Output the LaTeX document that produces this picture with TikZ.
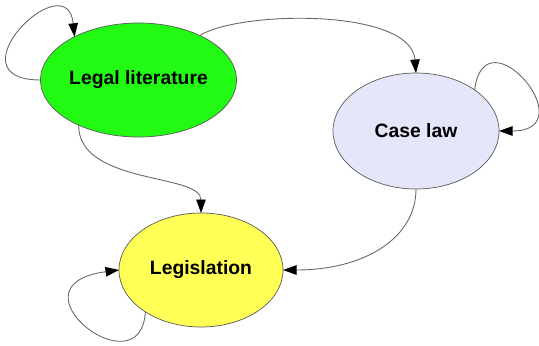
\documentclass[tikz,border=0pt]{standalone}
\usepackage{fontspec}
\setmainfont{Liberation Sans}
\usetikzlibrary{shapes.geometric,arrows.meta}
\definecolor{litgreen}{RGB}{34,250,20}
\definecolor{caselilac}{RGB}{230,230,250}
\definecolor{legyellow}{RGB}{255,255,85}
\begin{document}
\begin{tikzpicture}[
	area/.style={ellipse, draw=black!65, thin, inner sep=0pt, outer sep=0pt,
		minimum width=3.28cm, minimum height=2.28cm,
		font=\fontsize{11}{13}\selectfont\bfseries},
	link/.style={draw=black!60, line width=0.5pt,
		-{Triangle[color=black, length=2.7mm, width=1.9mm]}}
	]
	   \useasboundingbox (0, 0) rectangle (10.78, 6.9);
	   % draw the three areas
	   \node [area, fill=litgreen] (lit) at (2.77, 5.30) {Legal literature};
	   \node [area, fill=caselilac, minimum width=3.32cm, minimum height=2.32cm] (case) at (8.32, 4.28) {Case law};
	   \node [area, fill=legyellow] (leg) at (4.02, 1.50) {Legislation};
	   % self loops
	   \draw [link] (lit.180) .. controls +(-1.85, 0) and +(-0.15, 1.5) .. (lit.146);
	   \draw [link] (case.35) .. controls +(0.2, 1.6) and +(1.75, 0) .. (case.0);
	   \draw [link] (leg.217) .. controls +(-0.1, -1.6) and +(-2.3, -0.3) .. (leg.180);
	   % links between areas
	   \draw [link] (lit.36) .. controls +(0.8, 0.5) and +(-0.1, 1.3) .. (case.90);
	   \draw [link] (lit.217) .. controls +(0, -1.2) and +(0, 0.8) .. (leg.90);
	   \draw [link] (case.270) .. controls +(0, -1.0) and +(1.6, 0) .. (leg.0);
	\end{tikzpicture}
\end{document}
